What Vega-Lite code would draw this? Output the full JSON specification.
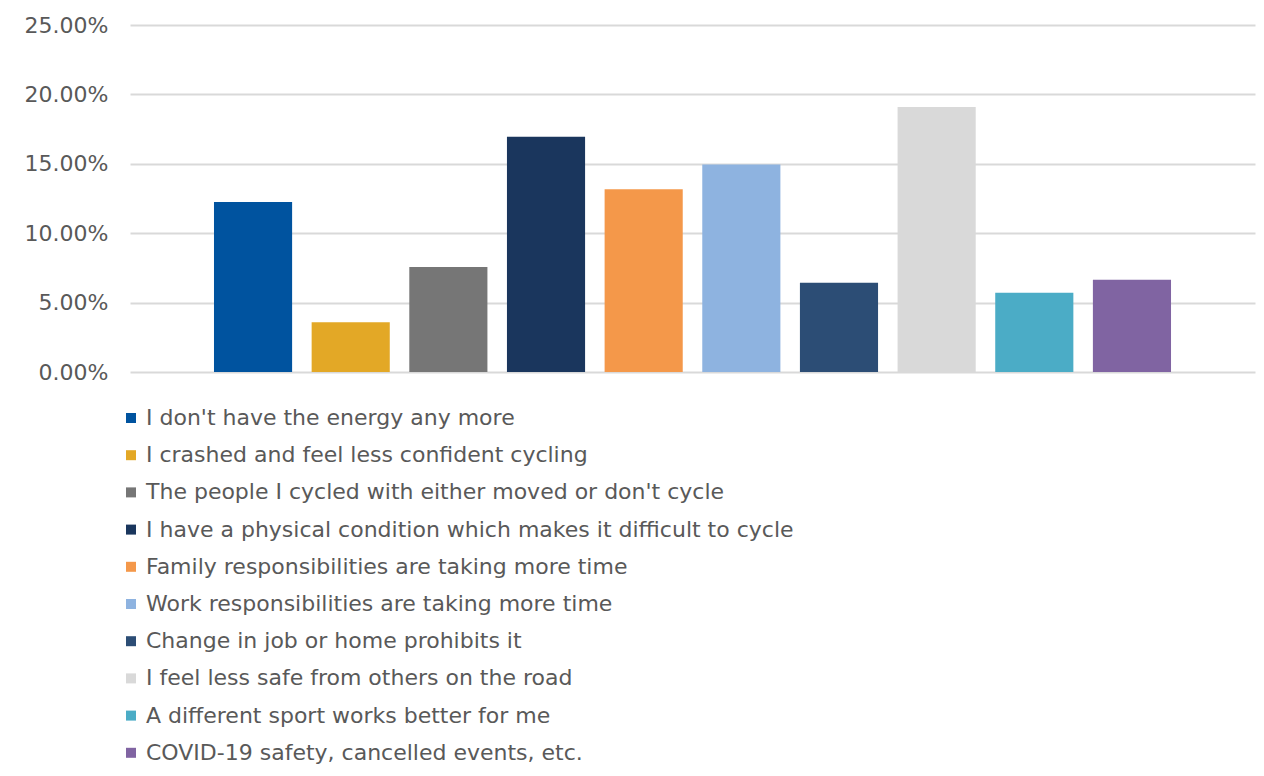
{
  "$schema": "https://vega.github.io/schema/vega-lite/v6.json",
  "autosize": {"type": "none"},
  "padding": {"left": 130, "top": 25, "right": 9, "bottom": 404},
  "width": 1125,
  "height": 347,
  "background": "white",
  "data": {
    "values": [
      {"reason": "I don't have the energy any more", "share": 0.1225},
      {"reason": "I crashed and feel less confident cycling", "share": 0.0359},
      {"reason": "The people I cycled with either moved or don't cycle", "share": 0.0756},
      {"reason": "I have a physical condition which makes it difficult to cycle", "share": 0.1694},
      {"reason": "Family responsibilities are taking more time", "share": 0.1317},
      {"reason": "Work responsibilities are taking more time", "share": 0.1495},
      {"reason": "Change in job or home prohibits it", "share": 0.0643},
      {"reason": "I feel less safe from others on the road", "share": 0.191},
      {"reason": "A different sport works better for me", "share": 0.0571},
      {"reason": "COVID-19 safety, cancelled events, etc.", "share": 0.0665}
    ]
  },
  "mark": {"type": "bar"},
  "encoding": {
    "x": {
      "field": "reason",
      "type": "nominal",
      "sort": null,
      "scale": {"paddingInner": 0.2, "paddingOuter": 0.86},
      "axis": null
    },
    "y": {
      "field": "share",
      "type": "quantitative",
      "scale": {"domain": [0, 0.25]},
      "axis": {
        "format": ".2%",
        "values": [0, 0.05, 0.1, 0.15, 0.2, 0.25],
        "domain": false,
        "ticks": false,
        "labelPadding": 22,
        "labelFontSize": 22,
        "labelColor": "#595959",
        "labelFont": "DejaVu Sans",
        "gridColor": "#d9d9d9",
        "gridWidth": 2,
        "title": null
      }
    },
    "color": {
      "field": "reason",
      "type": "nominal",
      "sort": null,
      "scale": {
        "range": ["#00539F", "#E3A826", "#767676", "#1A365D", "#F4984A", "#8EB3E0", "#2C4D75", "#D9D9D9", "#4BACC6", "#8064A2"]
      },
      "legend": {
        "title": null,
        "orient": "none",
        "legendX": -10,
        "legendY": 382,
        "symbolType": "square",
        "symbolSize": 100,
        "symbolStrokeWidth": 0,
        "symbolOffset": 0,
        "labelFontSize": 22,
        "labelFont": "DejaVu Sans",
        "labelColor": "#595959",
        "labelOffset": 4,
        "labelLimit": 1000,
        "rowPadding": 15.2,
        "padding": 0
      }
    }
  },
  "config": {
    "view": {"stroke": null}
  }
}
